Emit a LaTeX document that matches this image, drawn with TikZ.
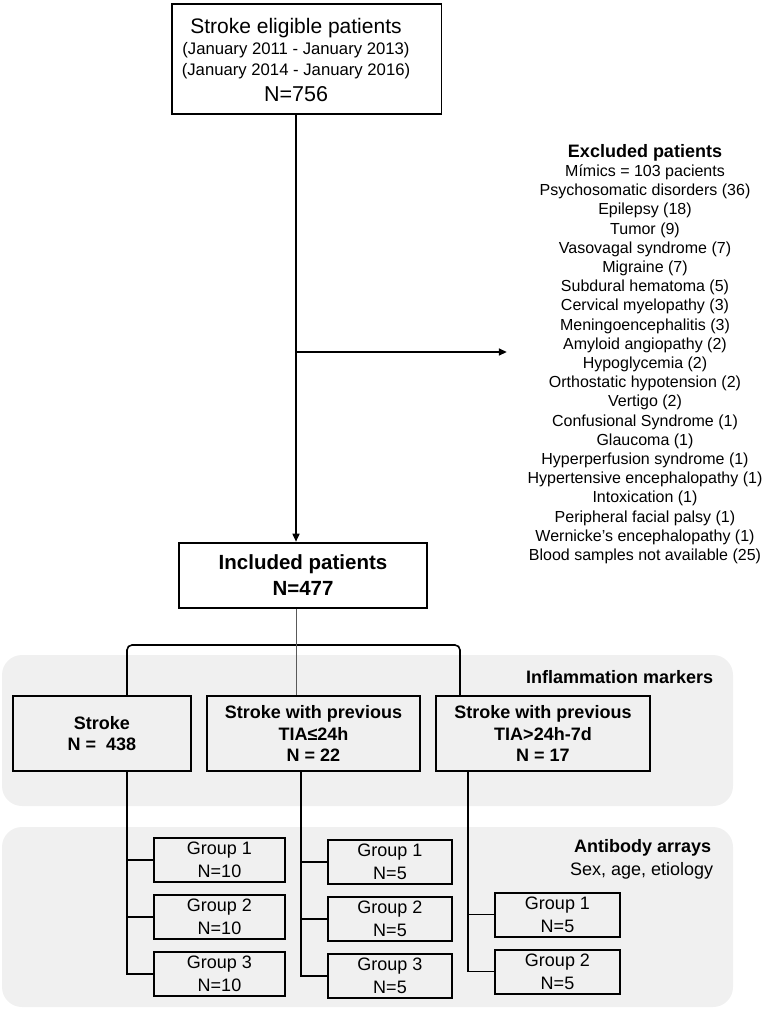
\documentclass[tikz,border=0pt]{standalone}
\usepackage{fontspec}
\setmainfont{Liberation Sans}
\usepackage{tikz}
\usetikzlibrary{arrows.meta, positioning}

\begin{document}
\begin{tikzpicture}[x=1pt, y=-1pt, line width=1.6pt, >={Triangle[length=8pt, width=7pt]},
    box/.style={rectangle, draw, line width=2pt, align=center, inner sep=0pt},
    mainbox/.style={box, font=\bfseries\fontsize{18}{21.7}\selectfont, minimum height=75.5pt},
    grpbox/.style={box, font=\fontsize{18}{23}\selectfont, minimum height=44pt},
    panel/.style={fill=black!6, rounded corners=20pt},
    node distance=11pt]
    \useasboundingbox (0,0) rectangle (768,1012);

    \fill[panel] (2,655) rectangle (733,806);
    \fill[panel] (2,827) rectangle (733,1007);

    \node[box, line width=1.8pt, minimum width=269.5pt, minimum height=110.3pt] (elig) at (306.8,58.9) {};
    \node[align=center, inner sep=0pt, font=\fontsize{16.7}{21}\selectfont] (eligtxt) at (296,60) {
        {\fontsize{21}{21}\selectfont Stroke eligible patients}\\
        (January 2011 - January 2013)\\
        (January 2014 - January 2016)\\[5.4pt]
        {\fontsize{21.5}{21}\selectfont N=756}
    };

    \node[align=center, inner sep=0pt, font=\fontsize{16}{19.2}\selectfont] (excl) at (645,354) {
        {\bfseries\fontsize{18}{19.2}\selectfont Excluded patients}\\
        Mímics = 103 pacients\\
        Psychosomatic disorders (36)\\
        Epilepsy (18)\\
        Tumor (9)\\
        Vasovagal syndrome (7)\\
        Migraine (7)\\
        Subdural hematoma (5)\\
        Cervical myelopathy (3)\\
        Meningoencephalitis (3)\\
        Amyloid angiopathy (2)\\
        Hypoglycemia (2)\\
        Orthostatic hypotension (2)\\
        Vertigo (2)\\
        Confusional Syndrome (1)\\
        Glaucoma (1)\\
        Hyperperfusion syndrome (1)\\
        Hypertensive encephalopathy (1)\\
        Intoxication (1)\\
        Peripheral facial palsy (1)\\
        Wernicke's encephalopathy (1)\\
        Blood samples not available (25)
    };

    \node[box, minimum width=248pt, minimum height=65.6pt, font=\bfseries\fontsize{20.5}{26}\selectfont] (incl) at (303,575.5) {
        Included patients\\N=477
    };

    \coordinate (split) at (296,352);
    \draw[->] (eligtxt |- elig.south) -- (eligtxt |- incl.north);
    \draw[->, shorten >=20pt] (split) -- (excl.west |- split);

    \node[mainbox, minimum width=178pt] (strk) at (102,733.7) {Stroke\\N =\ \ 438};
    \node[mainbox, minimum width=213pt] (tiaa) at (313.5,733.7) {Stroke with previous\\TIA≤24h\\N = 22};
    \node[mainbox, minimum width=214pt] (tiab) at (543,733.7) {Stroke with previous\\TIA>24h-7d\\N = 17};

    \node[anchor=base east, inner sep=0pt, font=\bfseries\fontsize{18}{18}\selectfont] (inflab) at (714,683) {Inflammation markers};
    \node[anchor=base east, inner sep=0pt, font=\bfseries\fontsize{18}{18}\selectfont] (ablab) at (712,852.3) {Antibody arrays};
    \node[anchor=base east, inner sep=0pt, font=\fontsize{18}{18}\selectfont] (abnote) at (714,875) {Sex, age, etiology};

    \coordinate (t1) at (127,0);
    \coordinate (t2) at (301,0);
    \coordinate (t3) at (468,0);
    \coordinate (b3) at (460,0);
    \coordinate (brk) at (0,645);

    \draw[rounded corners=5pt] (strk.north -| t1) |- (brk -| eligtxt) -| (tiab.north -| b3);
    \draw[line width=1pt, black!65] (eligtxt |- incl.south) -- (eligtxt |- tiaa.north);

    \node[grpbox, minimum width=131pt] (g11) at (219.5,860) {Group 1\\N=10};
    \node[grpbox, minimum width=131pt, below=of g11] (g12) {Group 2\\N=10};
    \node[grpbox, minimum width=131pt, below=of g12] (g13) {Group 3\\N=10};

    \node[grpbox, minimum width=124pt] (g21) at (390,862) {Group 1\\N=5};
    \node[grpbox, minimum width=124pt, below=of g21] (g22) {Group 2\\N=5};
    \node[grpbox, minimum width=124pt, below=of g22] (g23) {Group 3\\N=5};

    \node[grpbox, minimum width=125pt] (g31) at (557.5,914.5) {Group 1\\N=5};
    \node[grpbox, minimum width=125pt, below=of g31] (g32) {Group 2\\N=5};

    \draw (strk.south -| t1) |- (g13.west);
    \draw (g11.west) -- (g11.west -| t1);
    \draw (g12.west) -- (g12.west -| t1);

    \draw (tiaa.south -| t2) |- (g23.west);
    \draw (g21.west) -- (g21.west -| t2);
    \draw (g22.west) -- (g22.west -| t2);

    \draw (tiab.south -| t3) |- (g32.west);
    \draw (g31.west) -- (g31.west -| t3);
\end{tikzpicture}
\end{document}
